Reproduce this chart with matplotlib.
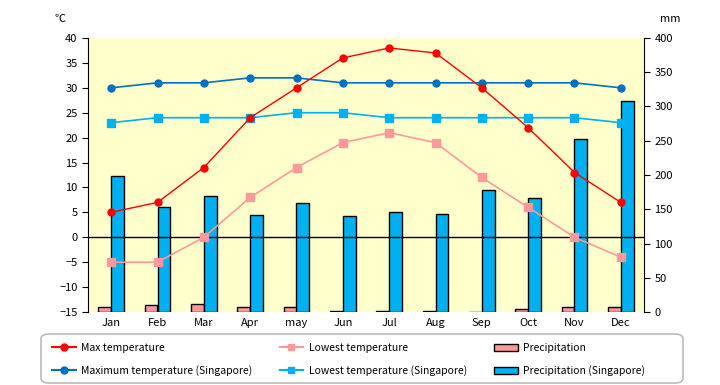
import matplotlib
matplotlib.use('Agg')
import matplotlib.pyplot as plt
import numpy as np
from matplotlib.lines import Line2D
from matplotlib.patches import Patch, FancyBboxPatch

plt.rcParams['font.family'] = ['Noto Sans CJK JP', 'DejaVu Sans']

months = ['Jan', 'Feb', 'Mar', 'Apr', 'may', 'Jun', 'Jul', 'Aug', 'Sep', 'Oct', 'Nov', 'Dec']

max_temp = [5, 7, 14, 24, 30, 36, 38, 37, 30, 22, 13, 7]
low_temp = [-5, -5, 0, 8, 14, 19, 21, 19, 12, 6, 0, -4]
precip = [8, 10, 11, 8, 7, 1, 1, 1, 0, 4, 7, 7]

sg_max_temp = [30, 31, 31, 32, 32, 31, 31, 31, 31, 31, 31, 30]
sg_low_temp = [23, 24, 24, 24, 25, 25, 24, 24, 24, 24, 24, 23]
sg_precip = [198, 154, 170, 141, 159, 140, 146, 143, 178, 167, 252, 308]

fig = plt.figure(figsize=(7.2, 3.85), dpi=100)
ax = fig.add_axes([88 / 720, 1 - 312 / 385, 556 / 720, 274 / 385])
ax2 = ax.twinx()

# линии поверх столбцов
ax.set_zorder(ax2.get_zorder() + 1)
ax.patch.set_visible(False)
ax2.patch.set_facecolor('#FFFFCC')
ax2.patch.set_visible(True)

x = np.arange(len(months))
w = 0.28
ax2.bar(x - w / 2, precip, w, color='#FF9999', edgecolor='black', linewidth=1)
ax2.bar(x + w / 2, sg_precip, w, color='#00B0F0', edgecolor='black', linewidth=1)
ax2.set_ylim(0, 400)
ax2.set_yticks(range(0, 401, 50))

ax.axhline(0, color='black', linewidth=1)
ax.plot(x, sg_max_temp, '-o', color='#0070C0', markersize=5, linewidth=1.2)
ax.plot(x, sg_low_temp, '-s', color='#00B0F0', markersize=5.5, linewidth=1.2)
ax.plot(x, low_temp, '-s', color='#FF9999', markersize=5.5, linewidth=1.2)
ax.plot(x, max_temp, '-o', color='#FF0000', markersize=5, linewidth=1)

ax.set_xlim(-0.5, 11.5)
ax.set_ylim(-15, 40)
ax.set_yticks(range(-15, 41, 5))
ax.set_xticks(x)
ax.set_xticklabels(months)
ax.tick_params(axis='x', length=0, pad=4, labelsize=8)
ax.tick_params(axis='y', direction='out', length=4, labelsize=8)
ax2.tick_params(axis='y', direction='out', length=4, labelsize=8)

for a in (ax, ax2):
    a.spines['top'].set_visible(False)
    a.spines['bottom'].set_visible(False)
ax.spines['right'].set_visible(False)
ax2.spines['left'].set_visible(False)

fig.text(60 / 720, 1 - 19 / 385, '℃', fontsize=8, ha='center', va='center')
fig.text(670 / 720, 1 - 19 / 385, 'mm', fontsize=8, ha='center', va='center')

# рамка легенды
box = FancyBboxPatch((41 / 720, 2 / 385), 642 / 720, 49 / 385,
                     boxstyle='round,pad=0,rounding_size=0.012',
                     transform=fig.transFigure, facecolor='white',
                     edgecolor='#BBBBBB', linewidth=1.2)
fig.patches.append(box)

handles = [
    Line2D([], [], color='#FF0000', marker='o', markersize=5),
    Line2D([], [], color='#0070C0', marker='o', markersize=5),
    Line2D([], [], color='#FF9999', marker='s', markersize=5),
    Line2D([], [], color='#00B0F0', marker='s', markersize=5),
    Patch(facecolor='#FF9999', edgecolor='black'),
    Patch(facecolor='#00B0F0', edgecolor='black'),
]
labels = ['Max temperature', 'Maximum temperature (Singapore)',
          'Lowest temperature', 'Lowest temperature (Singapore)',
          'Precipitation', 'Precipitation (Singapore)']
leg = fig.legend(handles, labels, ncol=3, loc='center left',
                 bbox_to_anchor=(52 / 720, 1 - 359.5 / 385),
                 fontsize=7.5, frameon=False, handlelength=2.3,
                 handletextpad=0.5, borderaxespad=0, borderpad=0,
                 labelspacing=1.2, columnspacing=2.6)

fig.savefig('out.png', dpi=100)
